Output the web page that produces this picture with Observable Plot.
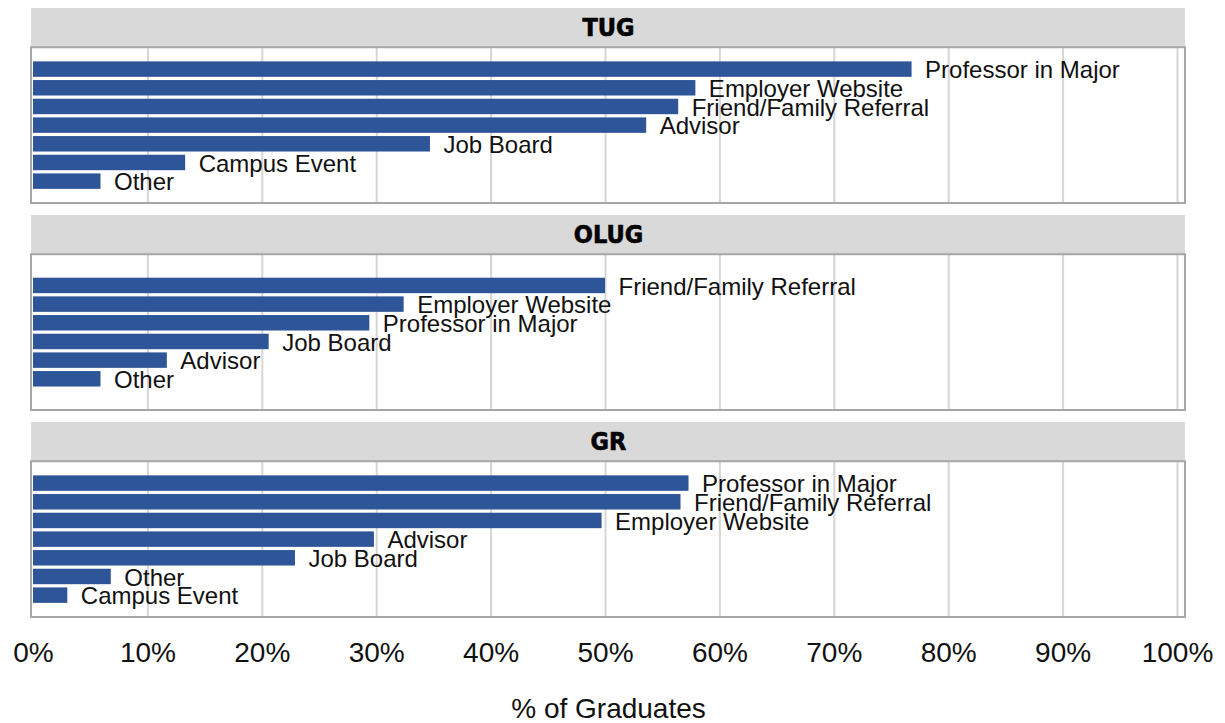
<!DOCTYPE html>
<html>
<head>
<meta charset="utf-8">
<script src="https://cdn.jsdelivr.net/npm/d3@7"></script>
<script src="https://cdn.jsdelivr.net/npm/@observablehq/plot@0.6"></script>
<style>
  html, body { margin: 0; padding: 0; background: #ffffff; }
  #chart svg { display: block; }
</style>
</head>
<body>
<div id="chart"></div>
<script>
// ---- Data ----
const groups = ["TUG", "OLUG", "GR"];

const tugLabels = ["Professor in Major", "Employer Website", "Friend/Family Referral", "Advisor", "Job Board", "Campus Event", "Other"];
const tugValues = [76.8, 57.9, 56.4, 53.6, 34.7, 13.3, 5.9];

const olugLabels = ["Friend/Family Referral", "Employer Website", "Professor in Major", "Job Board", "Advisor", "Other"];
const olugValues = [50.0, 32.4, 29.4, 20.6, 11.7, 5.9];

const grLabels = ["Professor in Major", "Friend/Family Referral", "Employer Website", "Advisor", "Job Board", "Other", "Campus Event"];
const grValues = [57.3, 56.6, 49.7, 29.8, 22.9, 6.8, 3.0];

const xTicks = [0, 10, 20, 30, 40, 50, 60, 70, 80, 90, 100];
const xTitle = "% of Graduates";

// ---- Build table ----
const series = {TUG: [tugLabels, tugValues], OLUG: [olugLabels, olugValues], GR: [grLabels, grValues]};
const SLOTS = 7;
const rows = [];
for (const g of groups) {
  const [labels, values] = series[g];
  const n = labels.length;
  labels.forEach((label, i) => rows.push({group: g, label, value: values[i], pos: i + (SLOTS - n) / 2}));
}

// ---- Layout in slot units ----
const unitPx = 18.7;
const panelHalf = 78 / unitPx;
const headerH = 39.3 / unitPx;
const center = (SLOTS - 1) / 2;
const panelTop = center - panelHalf;
const panelBottom = center + panelHalf;
const headerTop = panelTop - headerH;
const headerMid = headerTop + headerH / 2;
const barHalf = 0.414;
const xMin = -0.175, xMax = 100.7;

const chart = Plot.plot({
  width: 1225,
  height: 723,
  marginTop: 7,
  marginBottom: 106,
  marginLeft: 31,
  marginRight: 40,
  style: {fontFamily: "'Liberation Sans', Arial, sans-serif", background: "#ffffff", color: "#111"},
  x: {domain: [xMin, xMax]},
  y: {domain: [panelBottom, headerTop], axis: null},
  fy: {domain: groups, paddingInner: 0.058, paddingOuter: 0, axis: null, label: null},
  marks: [
    Plot.rect(groups, {fy: d => d, x1: xMin, x2: xMax, y1: headerTop, y2: panelTop, fill: "#d9d9d9"}),
    Plot.ruleX(xTicks.slice(1), {y1: panelTop, y2: panelBottom, stroke: "#d6d6d6", strokeWidth: 2}),
    Plot.rect(groups, {fy: d => d, x1: xMin, x2: xMax, y1: panelTop, y2: panelBottom, fill: "none", stroke: "#a6a6a6", strokeWidth: 2}),
    Plot.rectX(rows, {fy: "group", x1: 0, x2: "value", y1: d => d.pos - barHalf, y2: d => d.pos + barHalf, fill: "#2e5597"}),
    Plot.text(rows, {fy: "group", x: "value", y: "pos", text: "label", textAnchor: "start", dx: 13, dy: 1, fontSize: 24, fill: "#111"}),
    Plot.text(groups, {fy: d => d, x: 50.26, y: headerMid, text: d => d, fontSize: 25, fontWeight: "bold",
      fontFamily: "'DejaVu Sans Condensed', 'Liberation Sans Narrow', 'Liberation Sans', sans-serif", fill: "#000", stroke: "#000", strokeWidth: 0.6}),
    Plot.axisX({ticks: xTicks, tickFormat: d => d + "%", tickSize: 0, tickPadding: 25, fontSize: 28,
      label: xTitle, labelAnchor: "center", labelArrow: "none", labelOffset: 100})
  ]
});
document.getElementById("chart").appendChild(chart);
</script>
</body>
</html>
